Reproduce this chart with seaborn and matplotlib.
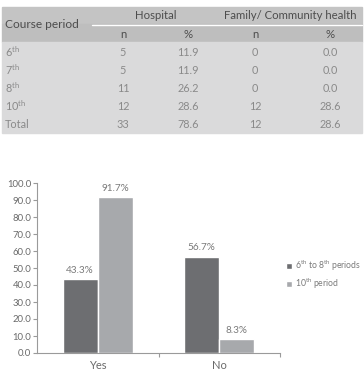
import matplotlib
matplotlib.use("Agg")
import matplotlib.pyplot as plt
import seaborn as sns
import pandas as pd
from matplotlib.patches import Rectangle
from matplotlib.lines import Line2D

# ---------------- data ----------------
table_rows = ["6$^{\\mathrm{th}}$", "7$^{\\mathrm{th}}$", "8$^{\\mathrm{th}}$", "10$^{\\mathrm{th}}$", "Total"]
hospital_n = ["5", "5", "11", "12", "33"]
hospital_pct = ["11.9", "11.9", "26.2", "28.6", "78.6"]
family_n = ["0", "0", "0", "12", "12"]
family_pct = ["0.0", "0.0", "0.0", "28.6", "28.6"]

categories = ["Yes", "No"]
groups = ["6$^{\\mathrm{th}}$ to 8$^{\\mathrm{th}}$ periods", "10$^{\\mathrm{th}}$ period"]
values_6_8 = [43.3, 56.7]
values_10 = [91.7, 8.3]
colors = ["#6d6e71", "#a7a9ac"]

# ---------------- style ----------------
sns.set_style("white")
plt.rcParams["font.family"] = ["Lato", "DejaVu Sans"]
plt.rcParams["mathtext.fontset"] = "custom"
plt.rcParams["mathtext.rm"] = "Lato"
plt.rcParams["mathtext.it"] = "Lato"

W, H = 364, 370
fig = plt.figure(figsize=(W / 100, H / 100), dpi=100)


def fx(x):
    return x / W


def fy(y):
    return 1 - y / H


# ---------------- table ----------------
tx0, tx1 = 2, 362
fig.patches.append(Rectangle((fx(tx0), fy(24)), fx(tx1 - tx0), (24 - 7) / H,
                             transform=fig.transFigure, color="#c4c4c4", zorder=0))
fig.patches.append(Rectangle((fx(tx0), fy(42)), fx(tx1 - tx0), (42 - 24) / H,
                             transform=fig.transFigure, color="#bebebe", zorder=0))
fig.patches.append(Rectangle((fx(tx0), fy(133)), fx(tx1 - tx0), (133 - 42) / H,
                             transform=fig.transFigure, color="#dadadb", zorder=0))
fig.lines.append(Line2D([fx(92), fx(362)], [fy(24.5), fy(24.5)], transform=fig.transFigure,
                        color="white", lw=1.0))

hdr_color = "#4d4d4d"
body_color = "#8a8a8a"
fs_hdr = 8.2
fs_body = 7.8
fig.text(fx(5), fy(25), "Course period", ha="left", va="center", fontsize=fs_hdr + 0.4, color=hdr_color)
fig.text(fx(156), fy(15.5), "Hospital", ha="center", va="center", fontsize=fs_hdr, color=hdr_color)
fig.text(fx(290), fy(15.5), "Family/ Community health", ha="center", va="center", fontsize=fs_hdr, color=hdr_color)
col_x = [123, 188, 255, 330]
for x, lab in zip(col_x, ["n", "%", "n", "%"]):
    fig.text(fx(x), fy(34), lab, ha="center", va="center", fontsize=fs_hdr, color=hdr_color)

row_y = [52, 70, 88, 106, 124]
for i, y in enumerate(row_y):
    fig.text(fx(5), fy(y), table_rows[i], ha="left", va="center", fontsize=fs_body, color=body_color)
    for x, col in zip(col_x, [hospital_n, hospital_pct, family_n, family_pct]):
        fig.text(fx(x), fy(y), col[i], ha="center", va="center", fontsize=fs_body, color=body_color)

# ---------------- bar chart ----------------
df = pd.DataFrame({
    "answer": categories * 2,
    "group": [groups[0]] * 2 + [groups[1]] * 2,
    "value": values_6_8 + values_10,
})

ax = fig.add_axes([fx(37), 1 - 353 / H, fx(280 - 37), (353 - 183) / H])
sns.barplot(data=df, x="answer", y="value", hue="group", order=categories,
            hue_order=groups, palette=colors, width=0.58, saturation=1,
            ax=ax, legend=True)

ax.set_ylim(0, 100)
ax.set_xlim(-0.5, 1.5)
ax.set_yticks(range(0, 101, 10))
ax.set_yticklabels([f"{v:.1f}" for v in range(0, 101, 10)])
ax.set_xlabel("")
ax.set_ylabel("")
for s in ["top", "right"]:
    ax.spines[s].set_visible(False)
for s in ["left", "bottom"]:
    ax.spines[s].set_color("#9a9a9a")
    ax.spines[s].set_linewidth(0.8)
ax.tick_params(axis="y", which="major", left=True, length=3, width=0.8, color="#9a9a9a",
               labelsize=6.8, labelcolor="#6a6a6a", pad=1)
ax.tick_params(axis="x", which="major", bottom=False, labelsize=8, labelcolor="#6a6a6a", pad=1.5)
ax.set_xticks([0.5, 1.5], minor=True)
ax.tick_params(axis="x", which="minor", bottom=True, length=3, width=0.8, color="#9a9a9a")

for cont in ax.containers:
    ax.bar_label(cont, fmt="%.1f%%", fontsize=7.2, color="#7a7a7a", padding=3)

leg = ax.legend(loc="center left", bbox_to_anchor=(fx(286), fy(274.5)), bbox_transform=fig.transFigure,
                frameon=False, fontsize=6.2, handlelength=0.7, handleheight=0.7,
                handletextpad=0.4, labelspacing=0.45, borderaxespad=0, borderpad=0)
for t in leg.get_texts():
    t.set_color("#7a7a7a")

fig.savefig("out.png", dpi=100, facecolor="white")
